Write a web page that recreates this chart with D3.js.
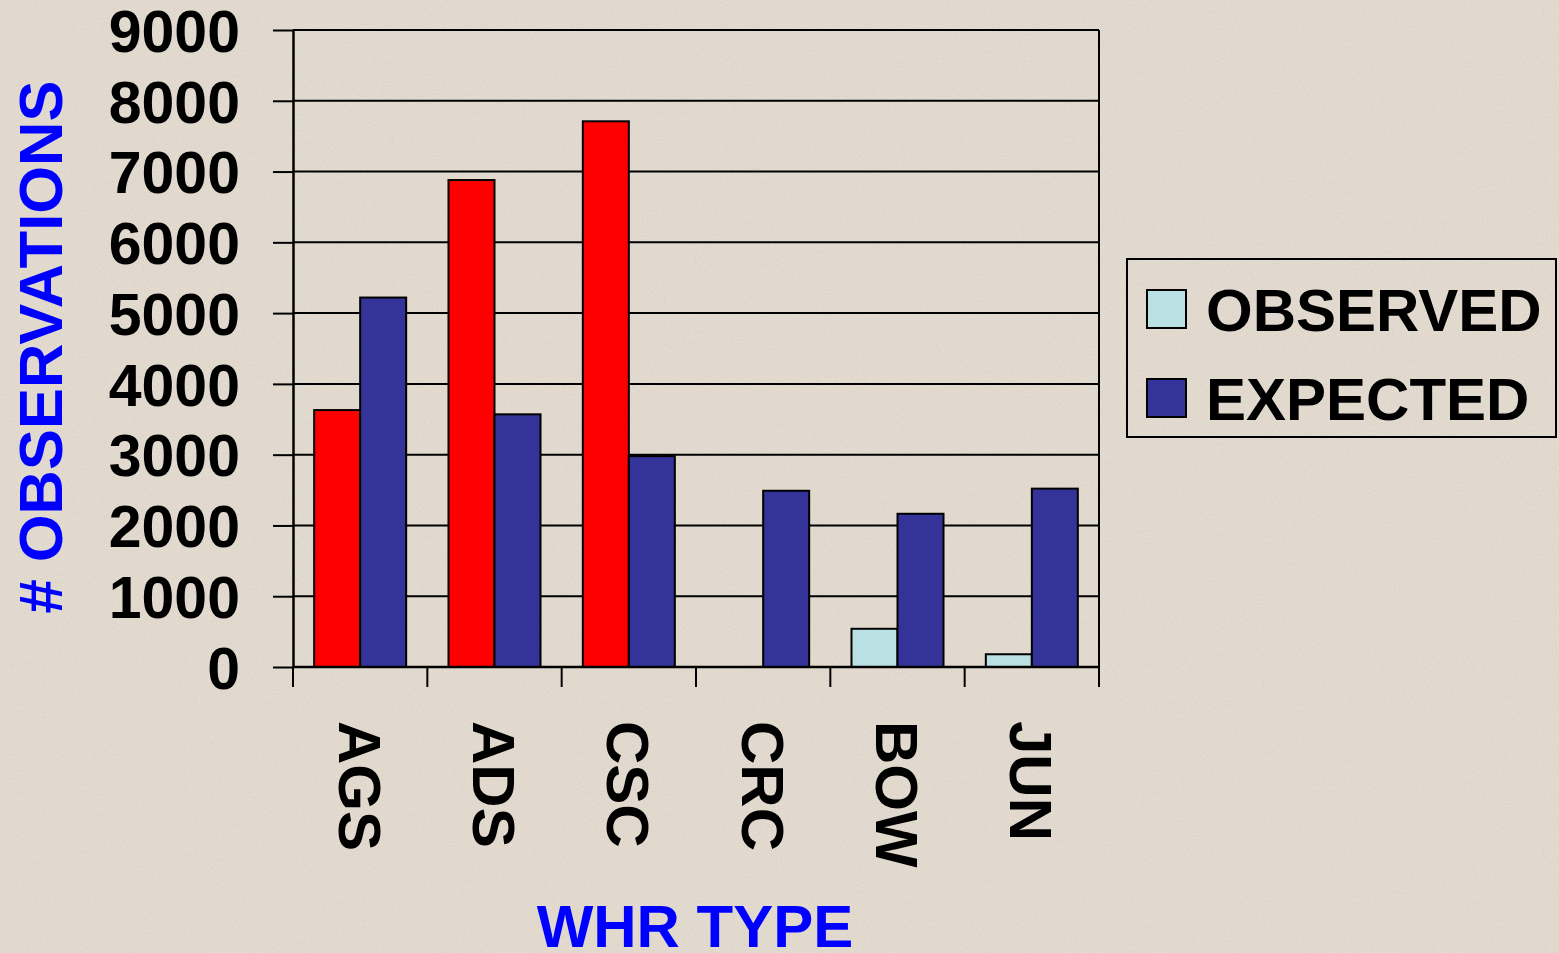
<!DOCTYPE html>
<html>
<head>
<meta charset="utf-8">
<script src="https://cdn.jsdelivr.net/npm/d3@7"></script>
<style>
  html, body { margin: 0; padding: 0; background: #E3DBCF; overflow: hidden; }
  svg { display: block; }
</style>
</head>
<body>
<svg id="chart" width="1559" height="953"></svg>
<script>
// ---------------- DATA ----------------
const categories = ["AGS", "ADS", "CSC", "CRC", "BOW", "JUN"];
const seriesNames = ["OBSERVED", "EXPECTED"];
const observed = [3630, 6880, 7710, 0, 540, 180];
const expected = [5220, 3570, 2980, 2490, 2165, 2520];
const observedBarColors = ["#FF0000", "#FF0000", "#FF0000", "#B9E1E3", "#B9E1E3", "#B9E1E3"];
const seriesColors = ["#B9E1E3", "#333399"];
const yTicks = [0, 1000, 2000, 3000, 4000, 5000, 6000, 7000, 8000, 9000];
const yTitle = "# OBSERVATIONS";
const xTitle = "WHR TYPE";

// ---------------- LAYOUT ----------------
const W = 1559, H = 953;
const plot = { left: 293, right: 1099, top: 30, bottom: 667 };
const FONT = "'Liberation Sans', Arial, Helvetica, sans-serif";

const svg = d3.select("#chart");

// background with subtle speckle texture
const defs = svg.append("defs");
const f = defs.append("filter").attr("id", "speckle").attr("x", 0).attr("y", 0).attr("width", "100%").attr("height", "100%");
f.append("feTurbulence").attr("type", "fractalNoise").attr("baseFrequency", 0.9).attr("numOctaves", 2).attr("seed", 7).attr("result", "noise");
f.append("feColorMatrix").attr("in", "noise").attr("type", "matrix")
  .attr("values", "0 0 0 0 0.45  0 0 0 0 0.42  0 0 0 0 0.38  -2.2 0 0 0 1.25");
svg.append("rect").attr("width", W).attr("height", H).attr("fill", "#E3DBCF");
svg.append("rect").attr("width", W).attr("height", H).attr("filter", "url(#speckle)").attr("opacity", 0.22);

// ---------------- SCALES ----------------
const y = d3.scaleLinear().domain([0, 9000]).range([plot.bottom, plot.top]);
const x0 = d3.scaleBand().domain(categories).range([plot.left, plot.right]).paddingInner(0).paddingOuter(0);
const x1 = d3.scaleBand().domain(seriesNames).range([0, x0.bandwidth()]).paddingInner(0).paddingOuter(0.46);

// ---------------- GRIDLINES ----------------
svg.append("g").selectAll("line").data(yTicks.filter(d => d > 0)).join("line")
  .attr("x1", plot.left).attr("x2", plot.right)
  .attr("y1", d => y(d)).attr("y2", d => y(d))
  .attr("stroke", "#000").attr("stroke-width", 2);

// right border of plot area
svg.append("line")
  .attr("x1", plot.right).attr("x2", plot.right)
  .attr("y1", y(9000)).attr("y2", plot.bottom + 20)
  .attr("stroke", "#000").attr("stroke-width", 2);

// ---------------- BARS ----------------
const rows = categories.map((c, i) => ({ cat: c, i, vals: [
  { s: seriesNames[0], v: observed[i], color: observedBarColors[i] },
  { s: seriesNames[1], v: expected[i], color: seriesColors[1] }
]}));

const groups = svg.append("g").selectAll("g").data(rows).join("g")
  .attr("transform", d => `translate(${x0(d.cat)},0)`);
groups.selectAll("rect").data(d => d.vals.filter(v => v.v > 0)).join("rect")
  .attr("x", d => x1(d.s))
  .attr("width", x1.bandwidth())
  .attr("y", d => y(d.v))
  .attr("height", d => y(0) - y(d.v))
  .attr("fill", d => d.color)
  .attr("stroke", "#000")
  .attr("stroke-width", 2);

// ---------------- Y AXIS ----------------
const yAxis = d3.axisLeft(y).tickValues(yTicks).tickSize(20).tickSizeOuter(0).tickPadding(33).tickFormat(d3.format("d"));
const gy = svg.append("g").attr("transform", `translate(${plot.left},0)`).call(yAxis);
gy.select(".domain").attr("stroke", "#000").attr("stroke-width", 2.5);
gy.selectAll(".tick line").attr("stroke", "#000").attr("stroke-width", 2);
gy.selectAll(".tick text")
  .attr("fill", "#000")
  .style("font-family", FONT).style("font-weight", "bold").style("font-size", "59px")
  .attr("dy", "0.36em");

// ---------------- X AXIS ----------------
const gx = svg.append("g").attr("transform", `translate(0,${plot.bottom})`);
gx.append("line").attr("x1", plot.left).attr("x2", plot.right).attr("y1", 0).attr("y2", 0)
  .attr("stroke", "#000").attr("stroke-width", 2.5);
const boundaries = d3.range(categories.length + 1).map(i => x0.range()[0] + i * x0.step());
gx.selectAll("line.tk").data(boundaries).join("line").attr("class", "tk")
  .attr("x1", d => d).attr("x2", d => d).attr("y1", 0).attr("y2", 20)
  .attr("stroke", "#000").attr("stroke-width", 2);
gx.selectAll("text").data(categories).join("text")
  .attr("transform", d => `translate(${x0(d) + x0.bandwidth() / 2},${721 - plot.bottom}) rotate(90)`)
  .attr("dy", "0.36em")
  .attr("text-anchor", "start")
  .attr("fill", "#000")
  .style("font-family", FONT).style("font-weight", "bold").style("font-size", "60px")
  .text(d => d);

// ---------------- TITLES ----------------
svg.append("text")
  .attr("transform", `translate(40,347) rotate(-90)`)
  .attr("dy", "0.36em")
  .attr("text-anchor", "middle")
  .attr("fill", "#0000FF")
  .style("font-family", FONT).style("font-weight", "bold").style("font-size", "61.5px")
  .text(yTitle);

svg.append("text")
  .attr("x", 695).attr("y", 947)
  .attr("text-anchor", "middle")
  .attr("fill", "#0000FF")
  .style("font-family", FONT).style("font-weight", "bold").style("font-size", "60px")
  .text(xTitle);

// ---------------- LEGEND ----------------
const lg = svg.append("g").attr("transform", "translate(1127,259)");
lg.append("rect").attr("width", 429).attr("height", 178)
  .attr("fill", "none").attr("stroke", "#000").attr("stroke-width", 2);
const items = lg.selectAll("g.item").data(seriesNames).join("g").attr("class", "item")
  .attr("transform", (d, i) => `translate(20,${31 + i * 89})`);
items.append("rect").attr("width", 39).attr("height", 38)
  .attr("fill", (d, i) => seriesColors[i]).attr("stroke", "#000").attr("stroke-width", 2);
items.append("text")
  .attr("x", 59).attr("y", 19).attr("dy", "0.36em")
  .attr("fill", "#000")
  .style("font-family", FONT).style("font-weight", "bold").style("font-size", "60px")
  .text(d => d);
</script>
</body>
</html>
